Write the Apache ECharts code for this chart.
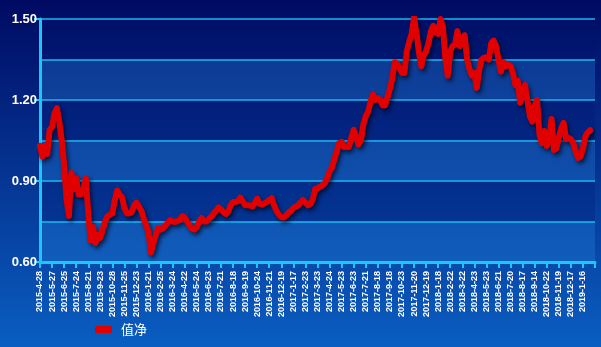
<!DOCTYPE html>
<html><head><meta charset="utf-8">
<script src="https://cdn.jsdelivr.net/npm/echarts@6/dist/echarts.min.js"></script>
<style>html,body{margin:0;padding:0;}#c{width:601px;height:347px;}</style>
</head><body><div id="c"></div>
<script>
var tickDates = ['2015-4-28','2015-5-27','2015-6-25','2015-7-24','2015-8-21','2015-9-23','2015-10-28','2015-11-25','2015-12-23','2016-1-21','2016-2-25','2016-3-24','2016-4-22','2016-5-24','2016-6-23','2016-7-21','2016-8-18','2016-9-19','2016-10-24','2016-11-21','2016-12-19','2017-1-17','2017-2-23','2017-3-23','2017-4-24','2017-5-23','2017-6-23','2017-7-21','2017-8-18','2017-9-18','2017-10-23','2017-11-20','2017-12-19','2018-1-18','2018-2-22','2018-3-22','2018-4-23','2018-5-23','2018-6-21','2018-7-20','2018-8-17','2018-9-14','2018-10-22','2018-11-19','2018-12-17','2019-1-16'];
var navValues = [
1.03,0.99,1.03,1.00,1.09,1.10,1.15,1.17,1.12,1.05,
0.96,0.83,0.77,0.93,0.87,0.91,0.85,0.85,0.87,0.91,
0.78,0.68,0.73,0.67,0.70,0.69,0.72,0.75,0.77,0.775,
0.78,0.83,0.865,0.85,0.84,0.80,0.78,0.78,0.785,0.81,
0.82,0.805,0.79,0.76,0.735,0.71,0.635,0.67,0.70,0.725,
0.72,0.725,0.735,0.745,0.755,0.75,0.748,0.752,0.756,0.77,
0.765,0.75,0.735,0.724,0.72,0.73,0.75,0.763,0.75,0.75,
0.76,0.768,0.78,0.79,0.802,0.795,0.785,0.778,0.786,0.81,
0.822,0.822,0.826,0.838,0.825,0.81,0.81,0.81,0.805,0.818,
0.835,0.815,0.812,0.817,0.822,0.83,0.836,0.81,0.79,0.775,
0.766,0.765,0.773,0.782,0.79,0.80,0.805,0.81,0.82,0.83,
0.82,0.81,0.815,0.83,0.87,0.873,0.878,0.885,0.892,0.91,
0.935,0.95,0.98,1.01,1.04,1.045,1.026,1.026,1.026,1.06,
1.09,1.065,1.035,1.05,1.11,1.14,1.157,1.195,1.22,1.20,
1.207,1.20,1.18,1.18,1.21,1.24,1.28,1.34,1.335,1.318,
1.30,1.30,1.38,1.415,1.445,1.505,1.45,1.38,1.325,1.365,
1.38,1.41,1.455,1.475,1.45,1.445,1.50,1.47,1.35,1.29,
1.38,1.40,1.405,1.455,1.40,1.41,1.44,1.35,1.315,1.29,
1.30,1.245,1.31,1.35,1.357,1.358,1.35,1.41,1.42,1.40,
1.35,1.305,1.34,1.325,1.332,1.325,1.30,1.255,1.272,1.19,
1.22,1.255,1.20,1.14,1.12,1.18,1.20,1.07,1.04,1.085,
1.03,1.05,1.13,1.015,1.02,1.06,1.095,1.115,1.055,1.06,
1.055,1.04,1.01,0.985,0.99,1.02,1.065,1.08,1.088
];
var seriesName = '值净';
var STEP = 5, LAST = 230;
var categories = [];
for (var i = 0; i <= LAST; i++) {
  categories.push(i % STEP === 0 && (i / STEP) < tickDates.length ? tickDates[i / STEP] : '');
}
var chart = echarts.init(document.getElementById('c'));
var cyan = '#1cc6f5';
chart.setOption({
  backgroundColor: {type:'linear', x:0, y:0, x2:0, y2:1, colorStops:[{offset:0,color:'#000a62'},{offset:1,color:'#0a5ec2'}]},
  animation: false,
  grid: {left:40, right:6, top:19, bottom:85},
  legend: {
    left: 90, bottom: 6, itemWidth: 17, itemHeight: 7, icon: 'roundRect', itemGap: 10,
    textStyle: {color:'#ffffff', fontSize: 13, fontFamily: 'Noto Sans CJK SC', padding: [0,0,0,4]},
    data: [seriesName]
  },
  xAxis: {
    type: 'category', boundaryGap: false, data: categories, max: LAST,
    axisLine: {lineStyle: {color: cyan, width: 3}},
    axisTick: {interval: STEP - 1, length: 6, lineStyle: {color: cyan, width: 2}},
    axisLabel: {interval: function(idx){ return idx % STEP === 0 && idx < LAST; }, rotate: 90, margin: 9,
      color: '#ffffff', fontSize: 9, fontWeight: 'bold', fontFamily: 'Liberation Sans'},
    splitLine: {show: false}
  },
  yAxis: [{
    type: 'value', min: 0.6, max: 1.5, interval: 0.15, position: 'left',
    axisLine: {show: false}, axisTick: {show: false}, axisLabel: {show: false},
    splitLine: {show: true, lineStyle: {color: '#1ab8f0', width: 1.5}},
    splitArea: {show: true, areaStyle: {color: ['rgba(40,140,230,0.30)', 'rgba(0,20,110,0.25)']}}
  }, {
    type: 'value', min: 0.6, max: 1.5, interval: 0.3, position: 'left',
    axisLine: {show: true, lineStyle: {color: cyan, width: 3}},
    axisTick: {show: true, length: 6, lineStyle: {color: cyan, width: 2}},
    axisLabel: {color: '#ffffff', fontSize: 13, fontWeight: 'bold', fontFamily: 'Liberation Sans', margin: 3,
      formatter: function(v){ return v.toFixed(2); }},
    splitLine: {show: false}
  }],
  series: [{
    name: seriesName, type: 'line', data: navValues, showSymbol: false, symbol: 'none',
    itemStyle: {color: '#e00000'},
    lineStyle: {color: '#e00000', width: 6, shadowColor: 'rgba(0,0,20,0.65)', shadowBlur: 4, shadowOffsetX: 2, shadowOffsetY: 3, join: 'round', cap: 'round'}
  }]
});
</script></body></html>
